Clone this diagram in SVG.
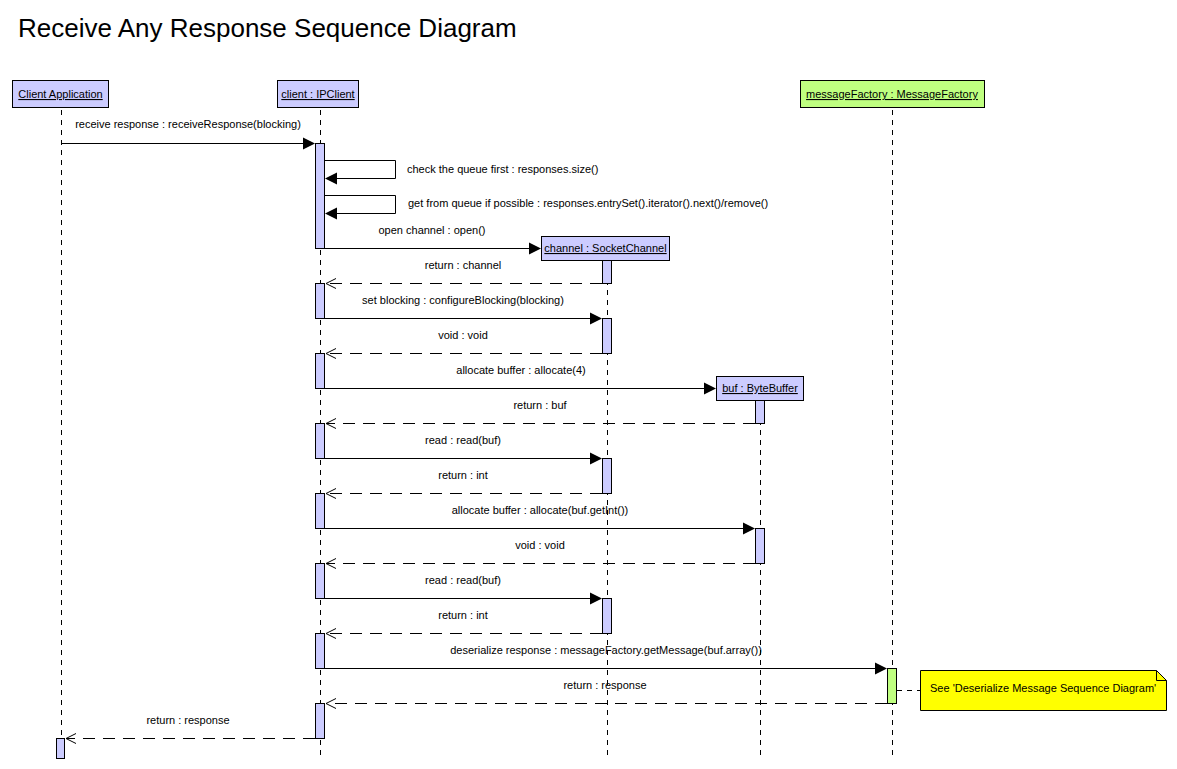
<svg xmlns="http://www.w3.org/2000/svg" width="1177" height="769" viewBox="0 0 1177 769">
<style>
text{font-family:"Liberation Sans",Arial,sans-serif;font-size:11px;fill:#000}
.title{font-size:26px}
.hdr{text-decoration:underline;text-anchor:middle}
.lbl{text-anchor:middle}
.box{fill:#CCCCFF;stroke:#000;stroke-width:1}
.gbox{fill:#BFFF80;stroke:#000;stroke-width:1}
.act{fill:#CCCCFF;stroke:#000;stroke-width:1}
.gact{fill:#BFFF80;stroke:#000;stroke-width:1}
.life{stroke:#000;stroke-width:1;stroke-dasharray:5 5;fill:none}
.msg{stroke:#000;stroke-width:1;fill:none}
.ret{stroke:#000;stroke-width:1;stroke-dasharray:12 8;fill:none}
.head{fill:#000;stroke:none}
.open{stroke:#000;stroke-width:1;fill:none}
.note{fill:#FFFF00;stroke:#000;stroke-width:1}
</style>
<rect width="1177" height="769" fill="#fff"/>
<text class="title" x="18" y="37">Receive Any Response Sequence Diagram</text>

<g id="clientApp">
<rect class="box" x="12.5" y="80.5" width="96" height="27"/>
<text class="hdr" x="60.5" y="98">Client Application</text>
<line class="life" x1="61.5" y1="110" x2="61.5" y2="738"/>
<rect class="act" x="56.5" y="738.5" width="8" height="20"/>
</g>

<g id="client">
<rect class="box" x="277.5" y="80.5" width="81" height="27"/>
<text class="hdr" x="318" y="98">client : IPClient</text>
<line class="life" x1="320.5" y1="110" x2="320.5" y2="758"/>
<rect class="act" x="315.5" y="143.5" width="9" height="105"/>
<rect class="act" x="315.5" y="283.5" width="9" height="35"/>
<rect class="act" x="315.5" y="353.5" width="9" height="35"/>
<rect class="act" x="315.5" y="423.5" width="9" height="35"/>
<rect class="act" x="315.5" y="493.5" width="9" height="35"/>
<rect class="act" x="315.5" y="563.5" width="9" height="35"/>
<rect class="act" x="315.5" y="633.5" width="9" height="35"/>
<rect class="act" x="315.5" y="703.5" width="9" height="35"/>
</g>

<g id="channel">
<rect class="box" x="541.5" y="236.5" width="128" height="24"/>
<text class="hdr" x="605.5" y="252">channel : SocketChannel</text>
<line class="life" x1="607.5" y1="260" x2="607.5" y2="758"/>
<rect class="act" x="602.5" y="260.5" width="9" height="23"/>
<rect class="act" x="602.5" y="318.5" width="9" height="35"/>
<rect class="act" x="602.5" y="458.5" width="9" height="35"/>
<rect class="act" x="602.5" y="598.5" width="9" height="35"/>
</g>

<g id="buf">
<rect class="box" x="716.5" y="376.5" width="87" height="24"/>
<text class="hdr" x="760" y="392">buf : ByteBuffer</text>
<line class="life" x1="760.5" y1="400" x2="760.5" y2="758"/>
<rect class="act" x="755.5" y="400.5" width="9" height="23"/>
<rect class="act" x="755.5" y="528.5" width="9" height="35"/>
</g>

<g id="messageFactory">
<rect class="gbox" x="800.5" y="80.5" width="184" height="27"/>
<text class="hdr" x="892" y="98">messageFactory : MessageFactory</text>
<line class="life" x1="892.5" y1="110" x2="892.5" y2="758"/>
<rect class="gact" x="887.5" y="668.5" width="9" height="35"/>
</g>

<g id="note">
<path class="note" d="M920.5,670.5 H1156.5 L1166.5,680.5 V710.5 H920.5 Z"/>
<path d="M1156.5,670.5 V680.5 H1166.5" fill="none" stroke="#000"/>
<text x="930" y="692">See 'Deserialize Message Sequence Diagram'</text>
</g>

<g id="connectors">
<line class="msg" x1="61" y1="143.5" x2="304" y2="143.5"/>
<polygon class="head" points="315,143.5 303,137.5 303,149.5"/>
<text class="lbl" x="188" y="128">receive response : receiveResponse(blocking)</text>

<polyline class="msg" points="325,160.5 395.5,160.5 395.5,178.5 336,178.5"/>
<polygon class="head" points="325,178.5 337,172.5 337,184.5"/>
<text x="407" y="173">check the queue first : responses.size()</text>
<polyline class="msg" points="325,195.5 395.5,195.5 395.5,213.5 336,213.5"/>
<polygon class="head" points="325,213.5 337,207.5 337,219.5"/>
<text x="408" y="207">get from queue if possible : responses.entrySet().iterator().next()/remove()</text>

<line class="msg" x1="325" y1="248.5" x2="530" y2="248.5"/>
<polygon class="head" points="541,248.5 529,242.5 529,254.5"/>
<text class="lbl" x="432" y="234">open channel : open()</text>

<line class="ret" x1="602" y1="283.5" x2="326" y2="283.5"/>
<polyline class="open" points="336,278.5 326,283.5 336,288.5"/>
<text class="lbl" x="463" y="269">return : channel</text>

<line class="msg" x1="325" y1="318.5" x2="591" y2="318.5"/>
<polygon class="head" points="602,318.5 590,312.5 590,324.5"/>
<text class="lbl" x="463" y="304">set blocking : configureBlocking(blocking)</text>

<line class="ret" x1="602" y1="353.5" x2="326" y2="353.5"/>
<polyline class="open" points="336,348.5 326,353.5 336,358.5"/>
<text class="lbl" x="463" y="339">void : void</text>

<line class="msg" x1="325" y1="388.5" x2="705" y2="388.5"/>
<polygon class="head" points="716,388.5 704,382.5 704,394.5"/>
<text class="lbl" x="521" y="374">allocate buffer : allocate(4)</text>

<line class="ret" x1="755" y1="423.5" x2="326" y2="423.5"/>
<polyline class="open" points="336,418.5 326,423.5 336,428.5"/>
<text class="lbl" x="540" y="409">return : buf</text>

<line class="msg" x1="325" y1="458.5" x2="591" y2="458.5"/>
<polygon class="head" points="602,458.5 590,452.5 590,464.5"/>
<text class="lbl" x="463" y="444">read : read(buf)</text>

<line class="ret" x1="602" y1="493.5" x2="326" y2="493.5"/>
<polyline class="open" points="336,488.5 326,493.5 336,498.5"/>
<text class="lbl" x="463" y="479">return : int</text>

<line class="msg" x1="325" y1="528.5" x2="744" y2="528.5"/>
<polygon class="head" points="755,528.5 743,522.5 743,534.5"/>
<text class="lbl" x="540" y="514">allocate buffer : allocate(buf.getInt())</text>

<line class="ret" x1="755" y1="563.5" x2="326" y2="563.5"/>
<polyline class="open" points="336,558.5 326,563.5 336,568.5"/>
<text class="lbl" x="540" y="549">void : void</text>

<line class="msg" x1="325" y1="598.5" x2="591" y2="598.5"/>
<polygon class="head" points="602,598.5 590,592.5 590,604.5"/>
<text class="lbl" x="463" y="584">read : read(buf)</text>

<line class="ret" x1="602" y1="633.5" x2="326" y2="633.5"/>
<polyline class="open" points="336,628.5 326,633.5 336,638.5"/>
<text class="lbl" x="463" y="619">return : int</text>

<line class="msg" x1="325" y1="668.5" x2="876" y2="668.5"/>
<polygon class="head" points="887,668.5 875,662.5 875,674.5"/>
<text class="lbl" x="606" y="654">deserialize response : messageFactory.getMessage(buf.array())</text>

<line class="ret" x1="887" y1="703.5" x2="326" y2="703.5"/>
<polyline class="open" points="336,698.5 326,703.5 336,708.5"/>
<text class="lbl" x="605" y="689">return : response</text>

<line class="ret" x1="315" y1="738.5" x2="66" y2="738.5"/>
<polyline class="open" points="76,733.5 66,738.5 76,743.5"/>
<text class="lbl" x="188" y="724">return : response</text>

<line class="life" x1="897" y1="690.5" x2="920" y2="690.5"/>
</g>
</svg>
